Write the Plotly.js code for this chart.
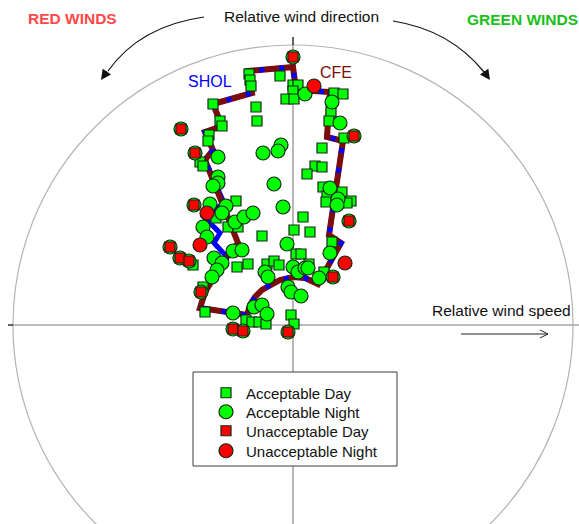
<!DOCTYPE html>
<html>
<head>
<meta charset="utf-8">
<script src="https://cdn.plot.ly/plotly-3.0.1.min.js"></script>
<style>
  html, body { margin: 0; padding: 0; background: #fff; }
  #chart { width: 579px; height: 524px; }
</style>
</head>
<body>
<div id="chart"></div>
<script>
// Observations in relative-wind coordinates (x: relative wind speed, y: relative wind direction),
// origin at the centre of the reference circle.
const accDayX = [-44,-43,-42,-13,0,5,0,-7,1,-80,-37,-36,-73,-71,-84,-85,-93,-90,41,50,38,36,51,29,22,29,14,30,49,34,33,58,54,-57,-77,-65,-55,-31,10,1,17,39,3,8,-56,-45,-26,-19,-14,16,31,-100,-90,-88,-47,-41,-34,-27,-2,1];
const accDayY = [251,245,239,249,240,240,234,226,226,221,218,204,204,199,190,184,163,159,232,231,213,204,187,177,159,158,151,138,133,129,123,124,122,124,107,98,98,89,108,95,93,83,71,71,58,61,61,64,60,61,53,60,38,13,5,3,3,1,10,1];

const accNightX = [12,39,47,-75,-30,-12,-15,-19,-75,-75,-80,37,45,44,-83,-67,-71,-58,-49,-40,-10,-90,-86,-60,-51,-79,-71,-76,-81,-6,37,-28,-25,0,5,12,15,26,-5,-2,8,-39,-31,-26,-60];
const accNightY = [231,223,202,168,172,180,174,141,148,142,139,137,126,120,121,119,112,103,108,112,118,98,88,74,75,67,62,55,48,81,72,53,48,58,53,57,57,47,38,33,29,18,20,11,12];

const unaccDayX = [0,-112,61,-98,-99,56,-123,-113,-104,-92,40,-60,-50,-5];
const unaccDayY = [268,196,189,172,120,104,78,67,64,33,48,-4,-6,-7];

const unaccNightX = [21,-86,-93,52];
const unaccNightY = [239,112,80,62];

// Operating envelopes
const sholX = [-66,-83,-88,-93,-46,-43,-38,-31,-23,-13,0,12,25,48,36,50,34,37,3,0,-45,-41,-80,-71,-88,-80,-88,-69,-89,-73,-79,-66];
const sholY = [68,43,33,17,10,20,28,35,40,45,48,47,41,82,90,184,188,233,235,258,254,232,221,199,193,175,165,122,108,92,82,68];
const cfeX = [-66,-83,-88,-93,-46,-43,-38,-31,-23,-13,0,12,25,48,36,50,34,37,3,0,-45,-41,-80,-71,-88,-80,-88,-55,-66];
const cfeY = [68,43,33,17,10,20,28,35,40,45,48,47,41,82,90,184,188,233,235,258,254,232,221,199,193,175,165,82,68];

const legendNames = ['Acceptable Day', 'Acceptable Night', 'Unacceptable Day', 'Unacceptable Night'];

// ---- layout helpers (screen pixel -> axis units) ----
const W = 579, H = 524, CX = 293, CY = 325, R = 280;
const ux = p => p - CX;
const uy = p => CY - p;
const FONT = 'Liberation Sans, Arial, Helvetica, sans-serif';
const GREEN = '#00ff00', RED = '#ff0000', EDGE = '#142814';
const BLUE = '#0000ff', MAROON = '#7b0d0d';

const traces = [
  { x: sholX, y: sholY, mode: 'lines', showlegend: false, hoverinfo: 'skip',
    line: { color: BLUE, width: 5 } },
  { x: cfeX, y: cfeY, mode: 'lines', showlegend: false, hoverinfo: 'skip',
    line: { color: MAROON, width: 6 } },
  { x: sholX, y: sholY, mode: 'lines', showlegend: false, hoverinfo: 'skip',
    line: { color: BLUE, width: 5, dash: '5px,15px' } },
  { x: accDayX, y: accDayY, mode: 'markers', name: legendNames[0], legend: 'legend',
    marker: { symbol: 'square', size: 10, color: GREEN, line: { color: EDGE, width: 1.2 } } },
  { x: accNightX, y: accNightY, mode: 'markers', name: legendNames[1], legend: 'legend2',
    marker: { symbol: 'circle', size: 14, color: GREEN, line: { color: EDGE, width: 1.2 } } },
  { x: unaccDayX, y: unaccDayY, mode: 'markers', showlegend: false, hoverinfo: 'skip',
    marker: { symbol: 'circle', size: 14, color: GREEN, line: { color: EDGE, width: 1.2 } } },
  { x: unaccDayX, y: unaccDayY, mode: 'markers', name: legendNames[2], legend: 'legend3',
    marker: { symbol: 'square', size: 10, color: RED, line: { color: EDGE, width: 1.2 } } },
  { x: unaccNightX, y: unaccNightY, mode: 'markers', name: legendNames[3], legend: 'legend4',
    marker: { symbol: 'circle', size: 14, color: RED, line: { color: EDGE, width: 1.2 } } }
];

function quadPath(p0, c, p1) {
  return 'M' + ux(p0[0]) + ',' + uy(p0[1]) +
         ' Q' + ux(c[0]) + ',' + uy(c[1]) +
         ' ' + ux(p1[0]) + ',' + uy(p1[1]);
}

const shapes = [
  { type: 'circle', xref: 'x', yref: 'y', x0: -R, x1: R, y0: -R, y1: R,
    line: { color: '#b4b4b4', width: 1.2 }, layer: 'below' },
  { type: 'line', xref: 'x', yref: 'y', x0: 0, x1: 0, y0: uy(H), y1: uy(45),
    line: { color: '#a6a6a6', width: 1.6 }, layer: 'below' },
  { type: 'line', xref: 'x', yref: 'y', x0: 0, x1: 0, y0: uy(45), y1: uy(37),
    line: { color: '#222', width: 1.4 }, layer: 'below' },
  { type: 'line', xref: 'x', yref: 'y', x0: ux(13), x1: ux(W), y0: 0, y1: 0,
    line: { color: '#a6a6a6', width: 1.6 }, layer: 'below' },
  { type: 'line', xref: 'x', yref: 'y', x0: ux(8), x1: ux(13), y0: 0, y1: 0,
    line: { color: '#222', width: 1.4 }, layer: 'below' },
  // legend frame
  { type: 'rect', xref: 'x', yref: 'y', x0: ux(193), x1: ux(397), y0: uy(466), y1: uy(372),
    fillcolor: '#fff', line: { color: '#3c3c3c', width: 1 }, layer: 'below' },
  // curved direction arrows
  { type: 'path', xref: 'x', yref: 'y', path: quadPath([204, 17], [140, 26], [108, 71]),
    line: { color: '#111', width: 1.2 } },
  { type: 'path', xref: 'x', yref: 'y', path: quadPath([393, 21], [450, 30], [484, 72]),
    line: { color: '#111', width: 1.2 } },
  // speed arrow
  { type: 'line', xref: 'x', yref: 'y', x0: ux(461), x1: ux(548), y0: uy(334), y1: uy(334),
    line: { color: '#222', width: 1 } },
  { type: 'path', xref: 'x', yref: 'y',
    path: 'M' + ux(540) + ',' + uy(330) + ' L' + ux(548) + ',' + uy(334) + ' L' + ux(540) + ',' + uy(338),
    line: { color: '#222', width: 1 } }
];

function label(text, x, y, opts) {
  return Object.assign({ text: text, xref: 'x', yref: 'y', x: ux(x), y: uy(y),
    showarrow: false, xanchor: 'center', yanchor: 'middle',
    font: { family: FONT, size: 15.5, color: '#111' } }, opts || {});
}

const annotations = [
  label('Relative wind direction', 301, 16),
  label('<b>RED WINDS</b>', 72, 18, { font: { family: FONT, size: 15.5, color: '#ff4848' } }),
  label('<b>GREEN WINDS</b>', 522, 19, { font: { family: FONT, size: 15.5, color: '#19c019' } }),
  label('Relative wind speed', 573, 310, { xanchor: 'right' }),
  label('SHOL', 210, 81, { font: { family: FONT, size: 16, color: BLUE } }),
  label('CFE', 336, 72, { font: { family: FONT, size: 16, color: MAROON } }),
  // arrowheads at the ends of the curved arrows
  { xref: 'x', yref: 'y', x: ux(101), y: uy(80), ax: 7, ay: -10, text: '', showarrow: true,
    arrowhead: 2, arrowsize: 1.7, arrowwidth: 1.2, arrowcolor: '#111', standoff: 0 },
  { xref: 'x', yref: 'y', x: ux(490), y: uy(80), ax: -7, ay: -10, text: '', showarrow: true,
    arrowhead: 2, arrowsize: 1.7, arrowwidth: 1.2, arrowcolor: '#111', standoff: 0 }
];

// one legend per row so the rows can sit at fixed spacing inside the frame
function legendRow(rowY) {
  return {
    x: 206 / W, y: 1 - rowY / H, xanchor: 'left', yanchor: 'middle',
    bgcolor: 'rgba(0,0,0,0)', borderwidth: 0,
    font: { family: FONT, size: 15, color: '#111' }
  };
}

const layout = {
  width: W, height: H,
  margin: { l: 0, r: 0, t: 0, b: 0 },
  paper_bgcolor: '#fff', plot_bgcolor: '#fff',
  xaxis: { range: [ux(0), ux(W)], visible: false, fixedrange: true },
  yaxis: { range: [uy(H), uy(0)], visible: false, fixedrange: true },
  showlegend: true,
  legend: legendRow(393),
  legend2: legendRow(412),
  legend3: legendRow(431),
  legend4: legendRow(451),
  shapes: shapes,
  annotations: annotations
};

Plotly.newPlot('chart', traces, layout, { staticPlot: true, displayModeBar: false });
</script>
</body>
</html>
